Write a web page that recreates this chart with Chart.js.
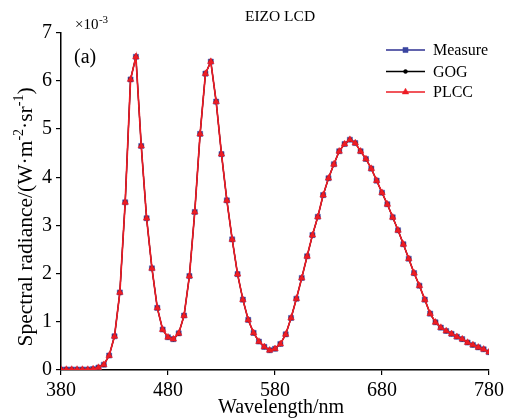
<!DOCTYPE html>
<html>
<head>
<meta charset="utf-8">
<script src="https://cdn.jsdelivr.net/npm/chart.js@4"></script>
<style>
    html, body { margin: 0; padding: 0; background: #fff; }
    #wrap { width: 508px; height: 418px; position: relative; }
</style>
</head>
<body>
<div id="wrap"><canvas id="spectrum-chart"></canvas></div>
<script>
// Wavelength samples (nm), 5 nm step
const wavelengths = [
    380, 385, 390, 395, 400, 405, 410, 415, 420, 425,
    430, 435, 440, 445, 450, 455, 460, 465, 470, 475,
    480, 485, 490, 495, 500, 505, 510, 515, 520, 525,
    530, 535, 540, 545, 550, 555, 560, 565, 570, 575,
    580, 585, 590, 595, 600, 605, 610, 615, 620, 625,
    630, 635, 640, 645, 650, 655, 660, 665, 670, 675,
    680, 685, 690, 695, 700, 705, 710, 715, 720, 725,
    730, 735, 740, 745, 750, 755, 760, 765, 770, 775,
    780
];

// Spectral radiance (x10^-3 W·m^-2·sr^-1)
const measured = [
    0.01, 0.01, 0.01, 0.01, 0.01, 0.01, 0.02, 0.05, 0.11, 0.30,
    0.70, 1.61, 3.48, 6.03, 6.50, 4.65, 3.15, 2.11, 1.29, 0.84,
    0.68, 0.64, 0.76, 1.13, 1.95, 3.28, 4.90, 6.15, 6.40, 5.57,
    4.48, 3.52, 2.71, 1.99, 1.46, 1.04, 0.77, 0.59, 0.48, 0.41,
    0.44, 0.54, 0.74, 1.08, 1.48, 1.91, 2.36, 2.80, 3.18, 3.63,
    3.98, 4.27, 4.54, 4.69, 4.78, 4.71, 4.54, 4.38, 4.18, 3.93,
    3.68, 3.44, 3.17, 2.90, 2.61, 2.31, 2.01, 1.75, 1.46, 1.17,
    0.99, 0.88, 0.81, 0.75, 0.69, 0.64, 0.57, 0.52, 0.47, 0.43,
    0.37
];

// Model predictions overlap the measurement at this scale
const gog = measured.slice();
const plcc = measured.slice();

const seriesNames = ['Measure', 'GOG', 'PLCC'];
const xTicks = [380, 480, 580, 680, 780];
const yTicks = [0, 1, 2, 3, 4, 5, 6, 7];

const SERIF = "'Liberation Serif', 'Times New Roman', serif";

function toPoints(values) {
    return wavelengths.map((w, i) => ({ x: w, y: values[i] }));
}

// Extra text: title, exponent, panel tag, y title with superscripts, x title, legend
const decorPlugin = {
    id: 'decor',
    afterDraw(chart) {
        const ctx = chart.ctx;
        ctx.save();
        ctx.fillStyle = '#000';

        // title
        ctx.font = `15.5px ${SERIF}`;
        ctx.textAlign = 'center';
        ctx.textBaseline = 'middle';
        ctx.fillText('EIZO LCD', 280, 17);

        // exponent
        ctx.textAlign = 'left';
        ctx.textBaseline = 'alphabetic';
        ctx.font = `15px ${SERIF}`;
        ctx.fillText('×10', 75, 29);
        let w = ctx.measureText('×10').width;
        ctx.font = `11px ${SERIF}`;
        ctx.fillText('-3', 75 + w + 0.5, 23);

        // panel tag
        ctx.font = `20px ${SERIF}`;
        ctx.fillText('(a)', 74, 63);

        // x title
        ctx.textAlign = 'center';
        ctx.fillText('Wavelength/nm', 281, 413);

        // y title (rotated, with superscripts)
        const parts = [
            ['Spectral radiance/(W·m', false],
            ['-2', true],
            ['·sr', false],
            ['-1', true],
            [')', false]
        ];
        const mainFont = `21.5px ${SERIF}`;
        const supFont = `14px ${SERIF}`;
        let total = 0;
        parts.forEach(([t, sup]) => {
            ctx.font = sup ? supFont : mainFont;
            total += ctx.measureText(t).width;
        });
        ctx.translate(32, 217);
        ctx.rotate(-Math.PI / 2);
        ctx.textAlign = 'left';
        let px = -total / 2;
        parts.forEach(([t, sup]) => {
            ctx.font = sup ? supFont : mainFont;
            ctx.fillText(t, px, sup ? -9 : 0);
            px += ctx.measureText(t).width;
        });
        ctx.setTransform(1, 0, 0, 1, 0, 0);

        // legend
        const rows = [50, 71.5, 92];
        chart.data.datasets.forEach((ds, i) => {
            const y = rows[i];
            ctx.strokeStyle = ds.borderColor;
            ctx.lineWidth = 1.5;
            ctx.beginPath();
            ctx.moveTo(386, y);
            ctx.lineTo(425, y);
            ctx.stroke();
            ctx.fillStyle = ds.pointBackgroundColor;
            ctx.strokeStyle = ds.pointBorderColor;
            ctx.lineWidth = 0.5;
            Chart.helpers.drawPoint(ctx, {
                pointStyle: ds.pointStyle,
                radius: ds.pointRadius,
                borderWidth: 0.5
            }, 405.5, y);
            ctx.fillStyle = '#000';
            ctx.font = `16px ${SERIF}`;
            ctx.textAlign = 'left';
            ctx.textBaseline = 'middle';
            ctx.fillText(seriesNames[i], 433, y + 1);
        });
        ctx.restore();
    }
};

new Chart(document.getElementById('spectrum-chart'), {
    type: 'line',
    data: {
        datasets: [
            {
                label: seriesNames[0],
                data: toPoints(measured),
                borderColor: '#2e3192',
                backgroundColor: '#2e3192',
                pointStyle: 'rect',
                pointRadius: 3.6,
                pointBackgroundColor: '#3a45a0',
                pointBorderColor: '#3a45a0',
                pointBorderWidth: 0.5,
                borderWidth: 1.2,
                tension: 0,
                order: 2
            },
            {
                label: seriesNames[1],
                data: toPoints(gog),
                borderColor: '#000',
                backgroundColor: '#000',
                pointStyle: 'circle',
                pointRadius: 2,
                pointBackgroundColor: '#000',
                pointBorderColor: '#000',
                pointBorderWidth: 0.5,
                borderWidth: 1.2,
                tension: 0,
                order: 1
            },
            {
                label: seriesNames[2],
                data: toPoints(plcc),
                borderColor: '#ed1c24',
                backgroundColor: '#ed1c24',
                pointStyle: 'triangle',
                pointRadius: 3.8,
                pointBackgroundColor: '#ed1c24',
                pointBorderColor: '#ed1c24',
                pointBorderWidth: 0.5,
                borderWidth: 1.7,
                tension: 0,
                order: 0
            }
        ]
    },
    options: {
        responsive: true,
        maintainAspectRatio: false,
        animation: false,
        layout: {
            padding: { top: 32.7, right: 17, left: 0, bottom: 0 }
        },
        scales: {
            x: {
                type: 'linear',
                min: 380,
                max: 780,
                afterBuildTicks: scale => {
                    scale.ticks = xTicks.map(v => ({ value: v }));
                },
                afterFit: scale => { scale.height = 48; },
                grid: {
                    display: true,
                    drawOnChartArea: false,
                    drawTicks: true,
                    tickLength: 5,
                    color: '#000',
                    lineWidth: 1.2
                },
                border: { display: true, color: '#000', width: 1.5 },
                ticks: {
                    color: '#000',
                    padding: 4,
                    maxRotation: 0,
                    font: { family: SERIF, size: 20 }
                }
            },
            y: {
                type: 'linear',
                min: 0,
                max: 7,
                afterBuildTicks: scale => {
                    scale.ticks = yTicks.map(v => ({ value: v }));
                },
                afterFit: scale => { scale.width = 61; },
                grid: {
                    display: true,
                    drawOnChartArea: false,
                    drawTicks: true,
                    tickLength: 5,
                    color: '#000',
                    lineWidth: 1.2
                },
                border: { display: true, color: '#000', width: 1.5 },
                ticks: {
                    color: '#000',
                    padding: 4,
                    font: { family: SERIF, size: 20 }
                }
            }
        },
        plugins: {
            legend: { display: false },
            title: { display: false },
            tooltip: { enabled: false }
        }
    },
    plugins: [decorPlugin]
});
</script>
</body>
</html>
